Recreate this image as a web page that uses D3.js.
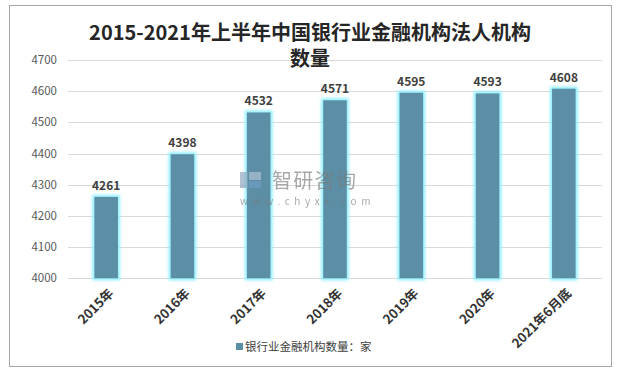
<!DOCTYPE html>
<html><head><meta charset="utf-8">
<script src="https://cdn.jsdelivr.net/npm/d3@7"></script>
<style>body{margin:0;background:#fff}svg{display:block}text{font-family:"Noto Sans CJK SC","Noto Sans",sans-serif}</style>
</head><body><svg id="c" width="619" height="374"></svg>
<script>
const categories = ["2015年","2016年","2017年","2018年","2019年","2020年","2021年6月底"];
const values = [4261,4398,4532,4571,4595,4593,4608];
const yTicks = [4000,4100,4200,4300,4400,4500,4600,4700];
const seriesName = "银行业金融机构数量：家";
const titleLines = ["2015-2021年上半年中国银行业金融机构法人机构","数量"];

const svg = d3.select("#c");
svg.append("rect").attr("x",9.5).attr("y",5.5).attr("width",602).attr("height",361)
  .attr("fill","#fff").attr("stroke","#a6a6a6").attr("stroke-width",1);

const defs = svg.append("defs");
const f = defs.append("filter").attr("id","glow").attr("x","-50%").attr("y","-20%").attr("width","200%").attr("height","140%");
f.append("feMorphology").attr("in","SourceAlpha").attr("operator","dilate").attr("radius",2).attr("result","d");
f.append("feGaussianBlur").attr("in","d").attr("stdDeviation",1.5).attr("result","b");
f.append("feFlood").attr("flood-color","#8fefff");
f.append("feComposite").attr("in2","b").attr("operator","in").attr("result","g");
const m = f.append("feMerge");
m.append("feMergeNode").attr("in","g");
m.append("feMergeNode").attr("in","SourceGraphic");

const x = d3.scaleBand().domain(categories).range([68,602]).paddingInner(0.69).paddingOuter(0.345);
const y = d3.scaleLinear().domain([4000,4700]).range([278.3,60]);

// gridlines
svg.append("g").selectAll("line").data(yTicks).join("line")
  .attr("x1",68).attr("x2",602).attr("y1",d=>Math.round(y(d))+0.5).attr("y2",d=>Math.round(y(d))+0.5)
  .attr("stroke","#d9d9d9").attr("stroke-width",1);

// y axis labels
svg.append("g").selectAll("text").data(yTicks).join("text")
  .attr("x",57).attr("y",d=>y(d)).attr("dy","0.35em").attr("text-anchor","end")
  .attr("font-size",11.5).attr("fill","#595959").text(d=>d);

// bars
svg.append("g").selectAll("rect").data(values).join("rect")
  .attr("x",(d,i)=>x(categories[i])).attr("width",x.bandwidth())
  .attr("y",d=>y(d)).attr("height",d=>y(4000)-y(d))
  .attr("fill","#5b8fa6").attr("filter","url(#glow)");

// watermark (on top, semi-transparent)
const wm = svg.append("g").attr("opacity",0.65);
wm.append("rect").attr("x",240).attr("y",172).attr("width",8).attr("height",16).attr("fill","#8aa3bd");
wm.append("rect").attr("x",249).attr("y",172).attr("width",12).attr("height",8).attr("fill","#b7c6d6");
wm.append("rect").attr("x",249).attr("y",181).attr("width",12).attr("height",7).attr("fill","#6f9ec8");
wm.append("text").attr("x",272).attr("y",188).attr("font-size",20).attr("fill","#7a7a7a").attr("letter-spacing","1.3").text("智研咨询");
wm.append("text").attr("x",240).attr("y",205).attr("font-size",10).attr("fill","#7a7a7a").attr("letter-spacing","4.6").text("www.chyxx.com");

// data labels
svg.append("g").selectAll("text").data(values).join("text")
  .attr("x",(d,i)=>x(categories[i])+x.bandwidth()/2).attr("y",d=>y(d)-7)
  .attr("text-anchor","middle").attr("font-size",12).attr("font-weight","bold").attr("fill","#404040").text(d=>d);

// x labels
svg.append("g").selectAll("text").data(categories).join("text")
  .attr("transform",(d)=>`translate(${x(d)+x.bandwidth()/2+5},${291}) rotate(-45)`)
  .attr("text-anchor","end").attr("dy","0.35em").attr("font-size",13).attr("font-weight","bold").attr("fill","#333").text(d=>d);

// title
svg.append("g").selectAll("text").data(titleLines).join("text")
  .attr("x",310).attr("y",(d,i)=>40+i*26).attr("text-anchor","middle")
  .attr("font-size",20).attr("font-weight","bold").attr("fill","#262626").text(d=>d);

// legend
svg.append("rect").attr("x",236).attr("y",343).attr("width",7).attr("height",7).attr("fill","#5b8fa6");
svg.append("text").attr("x",245).attr("y",347).attr("dy","0.35em").attr("font-size",11.5).attr("fill","#404040").text(seriesName);
</script></body></html>
